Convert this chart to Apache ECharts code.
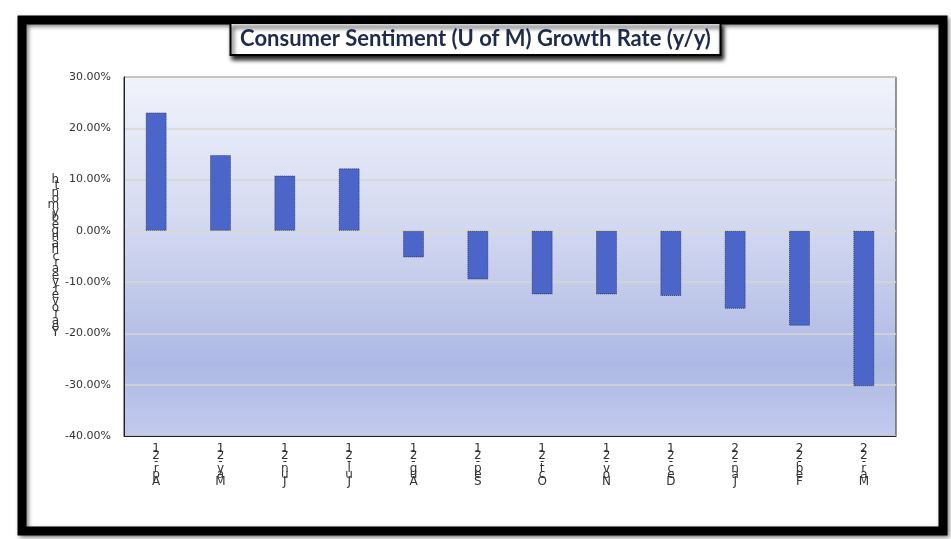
<!DOCTYPE html>
<html>
<head>
<meta charset="utf-8">
<title>Consumer Sentiment (U of M) Growth Rate (y/y)</title>
<script src="https://cdn.jsdelivr.net/npm/echarts@6/dist/echarts.min.js"></script>
<style>
  html, body { margin: 0; padding: 0; background: #fff; }
  #chart { width: 951px; height: 539px; }
</style>
</head>
<body>
<div id="chart"></div>
<script>
// months shown on the x axis
const months = ['Apr-21', 'May-21', 'Jun-21', 'Jul-21', 'Aug-21', 'Sep-21',
                'Oct-21', 'Nov-21', 'Dec-21', 'Jan-22', 'Feb-22', 'Mar-22'];
// y/y growth in percent
const growth = [23.1, 14.8, 10.8, 12.2, -5.2, -9.5, -12.4, -12.4, -12.7, -15.2, -18.5, -30.3];
const yTicks = { min: -40, max: 30, step: 10 };
const yTitle = 'Year over year change by month';

// the original stacks characters vertically, last char on top
const stackChars = s => s.replace(/\s/g, '').split('').reverse().join('\n');

const chart = echarts.init(document.getElementById('chart'));

chart.setOption({
  animation: false,
  textStyle: { fontFamily: 'DejaVu Sans' },
  graphic: [
    {
      type: 'rect',
      z: -100,
      shape: { x: 22, y: 20, width: 921, height: 511 },
      style: {
        fill: '#fff', stroke: '#000', lineWidth: 9,
        shadowBlur: 4, shadowColor: 'rgba(0,0,0,0.5)', shadowOffsetX: 2, shadowOffsetY: 2
      }
    }
  ],
  title: {
    text: 'Consumer Sentiment (U of M) Growth Rate (y/y)',
    left: 'center',
    top: 23,
    padding: [5, 10, 5, 10],
    backgroundColor: '#fff',
    borderColor: '#000',
    borderWidth: 2,
    shadowBlur: 4,
    shadowColor: 'rgba(0,0,0,0.9)',
    shadowOffsetX: 2,
    shadowOffsetY: 4,
    textStyle: { fontFamily: 'Lato', fontWeight: 'bold', fontSize: 22, color: '#1f2b4d' }
  },
  grid: {
    left: 124, right: 55, top: 77, bottom: 103,
    show: true,
    borderColor: '#333',
    borderWidth: 1,
    backgroundColor: new echarts.graphic.LinearGradient(0, 0, 0, 1, [
      { offset: 0, color: '#f1f3fb' },
      { offset: 0.45, color: '#d0d6ef' },
      { offset: 0.8, color: '#adb9e4' },
      { offset: 1, color: '#c3cbed' }
    ])
  },
  xAxis: {
    type: 'category',
    data: months,
    axisLine: { onZero: false, lineStyle: { color: '#222' } },
    axisTick: { show: false },
    axisLabel: {
      margin: 10,
      fontSize: 12,
      lineHeight: 6.5,
      color: '#333',
      formatter: v => stackChars(v)
    }
  },
  yAxis: {
    type: 'value',
    min: yTicks.min,
    max: yTicks.max,
    interval: yTicks.step,
    name: stackChars(yTitle),
    nameLocation: 'middle',
    nameGap: 60,
    nameRotate: 0,
    nameTextStyle: { fontSize: 12, lineHeight: 6.4, color: '#333' },
    axisLine: { show: true, lineStyle: { color: '#222' } },
    axisTick: { show: false },
    axisLabel: {
      margin: 13,
      fontSize: 11,
      color: '#333',
      formatter: v => v.toFixed(2) + '%'
    },
    splitLine: { lineStyle: { color: '#d9d6d0', width: 1.5 } }
  },
  series: [
    {
      type: 'bar',
      data: growth,
      barWidth: 21,
      itemStyle: {
        color: '#4b66c8',
        borderColor: 'rgba(0,0,0,0.55)',
        borderWidth: 1,
        borderType: 'dotted'
      }
    }
  ]
});
</script>
</body>
</html>
